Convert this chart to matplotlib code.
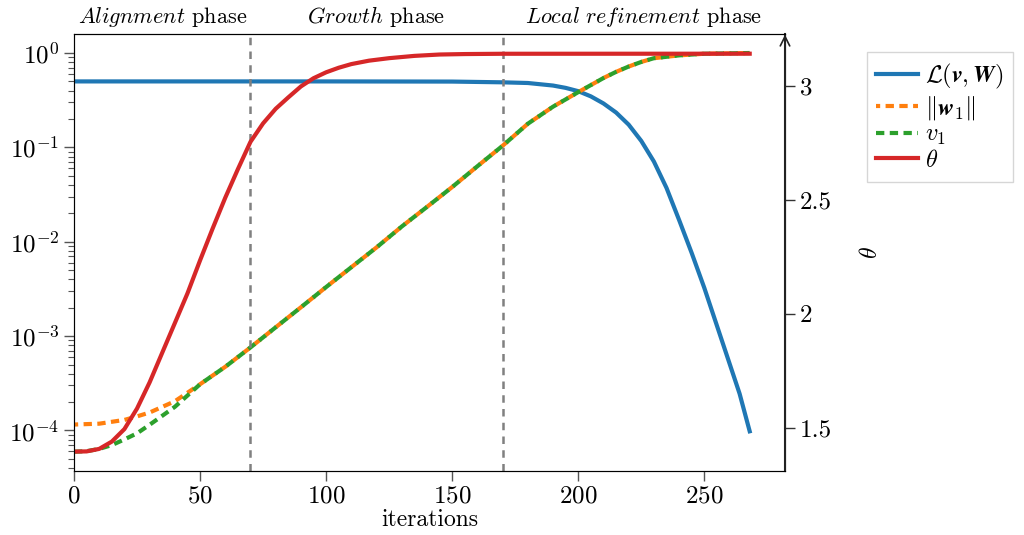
import numpy as np
import matplotlib.pyplot as plt

plt.rcParams['font.family'] = 'serif'
plt.rcParams['font.serif'] = ['cmr10']
plt.rcParams['mathtext.fontset'] = 'cm'
plt.rcParams['axes.unicode_minus'] = False
plt.rcParams['axes.formatter.use_mathtext'] = True
plt.rcParams['font.size'] = 17

# loss L(v, W)
loss_iter = [0, 100, 150, 170, 180, 190, 195, 200, 205, 210, 215, 220, 225, 230,
             235, 240, 245, 250, 255, 260, 264, 268]
loss = [0.5, 0.5, 0.498, 0.489, 0.481, 0.452, 0.427, 0.394, 0.347, 0.292, 0.234,
        0.174, 0.117, 0.0708, 0.0372, 0.017, 7.59e-3, 3.24e-3, 1.29e-3, 5.13e-4,
        2.45e-4, 9.8e-5]

# ||w_1|| and v_1
norm_iter = [0, 10, 20, 25, 30, 40, 50, 60, 70, 80, 90, 100, 110, 120, 130, 140,
             150, 160, 170, 180, 190, 200, 210, 215, 220, 225, 230, 240, 250, 268]
w1_norm = [1.156e-4, 1.18e-4, 1.294e-4, 1.41e-4, 1.55e-4, 2.04e-4, 3.09e-4,
           4.73e-4, 7.59e-4, 1.24e-3, 2.02e-3, 3.31e-3, 5.37e-3, 8.71e-3, 1.45e-2,
           2.34e-2, 3.80e-2, 6.31e-2, 0.104, 0.178, 0.27, 0.385, 0.543, 0.631,
           0.719, 0.804, 0.881, 0.944, 0.982, 1.0]
v1_iter = [0, 5, 10, 15, 20, 25, 30, 40, 50, 60, 70, 80, 90, 100, 110, 120, 130,
           140, 150, 160, 170, 180, 190, 200, 210, 215, 220, 225, 230, 240, 250, 268]
v1 = [5.96e-5, 6.03e-5, 6.38e-5, 7.0e-5, 8.04e-5, 9.33e-5, 1.15e-4, 1.78e-4,
      3.09e-4, 4.73e-4, 7.59e-4, 1.24e-3, 2.02e-3, 3.31e-3, 5.37e-3, 8.71e-3,
      1.45e-2, 2.34e-2, 3.80e-2, 6.31e-2, 0.104, 0.178, 0.27, 0.385, 0.543,
      0.631, 0.719, 0.804, 0.881, 0.944, 0.982, 1.0]

# angle theta
theta_iter = [0, 5, 10, 15, 20, 25, 30, 35, 40, 45, 50, 55, 60, 65, 70, 75, 80,
              85, 90, 95, 100, 105, 110, 117, 125, 135, 145, 155, 170, 268]
theta = [1.396, 1.397, 1.408, 1.44, 1.495, 1.585, 1.70, 1.83, 1.96, 2.09, 2.235,
         2.375, 2.51, 2.635, 2.755, 2.836, 2.90, 2.95, 2.998, 3.034, 3.06, 3.08,
         3.096, 3.111, 3.122, 3.132, 3.138, 3.140, 3.1413, 3.1416]

phase_bounds = [70, 170]
phase_names = [r'$\mathit{Alignment}$ phase', r'$\mathit{Growth}$ phase',
               r'$\mathit{Local\ refinement}$ phase']
phase_centers = [35, 120, 226]

fig = plt.figure(figsize=(10.24, 5.35), dpi=100)
ax = fig.add_axes([74 / 1024, 64 / 535, 711 / 1024, 437 / 535])
ax2 = ax.twinx()

lw = 3
l1, = ax.plot(loss_iter, loss, color='#1f77b4', lw=lw, label=r'$\mathcal{L}(\mathbfit{v},\mathbfit{W})$')
l2, = ax.plot(norm_iter, w1_norm, color='#ff7f0e', lw=lw, ls=(1.0, (2.0, 1.3)),
              label=r'$\Vert\mathbfit{w}_1\Vert$')
l3, = ax.plot(v1_iter, v1, color='#2ca02c', lw=lw, ls=(0, (2.0, 1.3)), label=r'$v_1$')
l4, = ax2.plot(theta_iter, theta, color='#d62728', lw=lw, label=r'$\theta$')

for b in phase_bounds:
    ax.axvline(b, color='#808080', lw=1.8, dashes=(3, 2.5))

ax.set_yscale('log')
ax.set_ylim(3.72e-5, 1.59)
ax.set_xlim(0, 282)
ax2.set_ylim(1.311, 3.228)
ax2.set_yticks([1.5, 2, 2.5, 3])
ax2.set_yticklabels(['1.5', '2', '2.5', '3'])
ax2.set_ylabel(r'$\theta$', labelpad=20)
ax.set_xlabel('iterations', labelpad=1)

for name, c in zip(phase_names, phase_centers):
    ax.text(c, 1.012, name, transform=ax.get_xaxis_transform(), ha='center',
            va='bottom', fontsize=16)

ax.tick_params(axis='both', which='major', direction='out', length=7, width=1,
               color='#555555', labelsize=18)
ax.tick_params(axis='y', which='minor', direction='out', length=4, width=0.8, color='#555555')
ax2.tick_params(axis='y', direction='out', length=7, width=1, color='#333333', labelsize=18)
for s in ['left', 'bottom']:
    ax.spines[s].set_color('#444444')
ax2.spines['right'].set_linewidth(1.5)
ax2.spines['right'].set_color('#222222')
ax2.annotate('', xy=(1, 1.005), xytext=(1, 0.97), xycoords='axes fraction',
             arrowprops=dict(arrowstyle='->', lw=1.2, color='#222222'))

ax.legend(handles=[l1, l2, l3, l4], loc='upper left', bbox_to_anchor=(1.115, 0.958),
          fancybox=False, edgecolor='#cccccc', fontsize=17.5, handlelength=1.7,
          handletextpad=0.3, borderaxespad=0, labelspacing=0.1)

fig.savefig('out.png', dpi=100)
